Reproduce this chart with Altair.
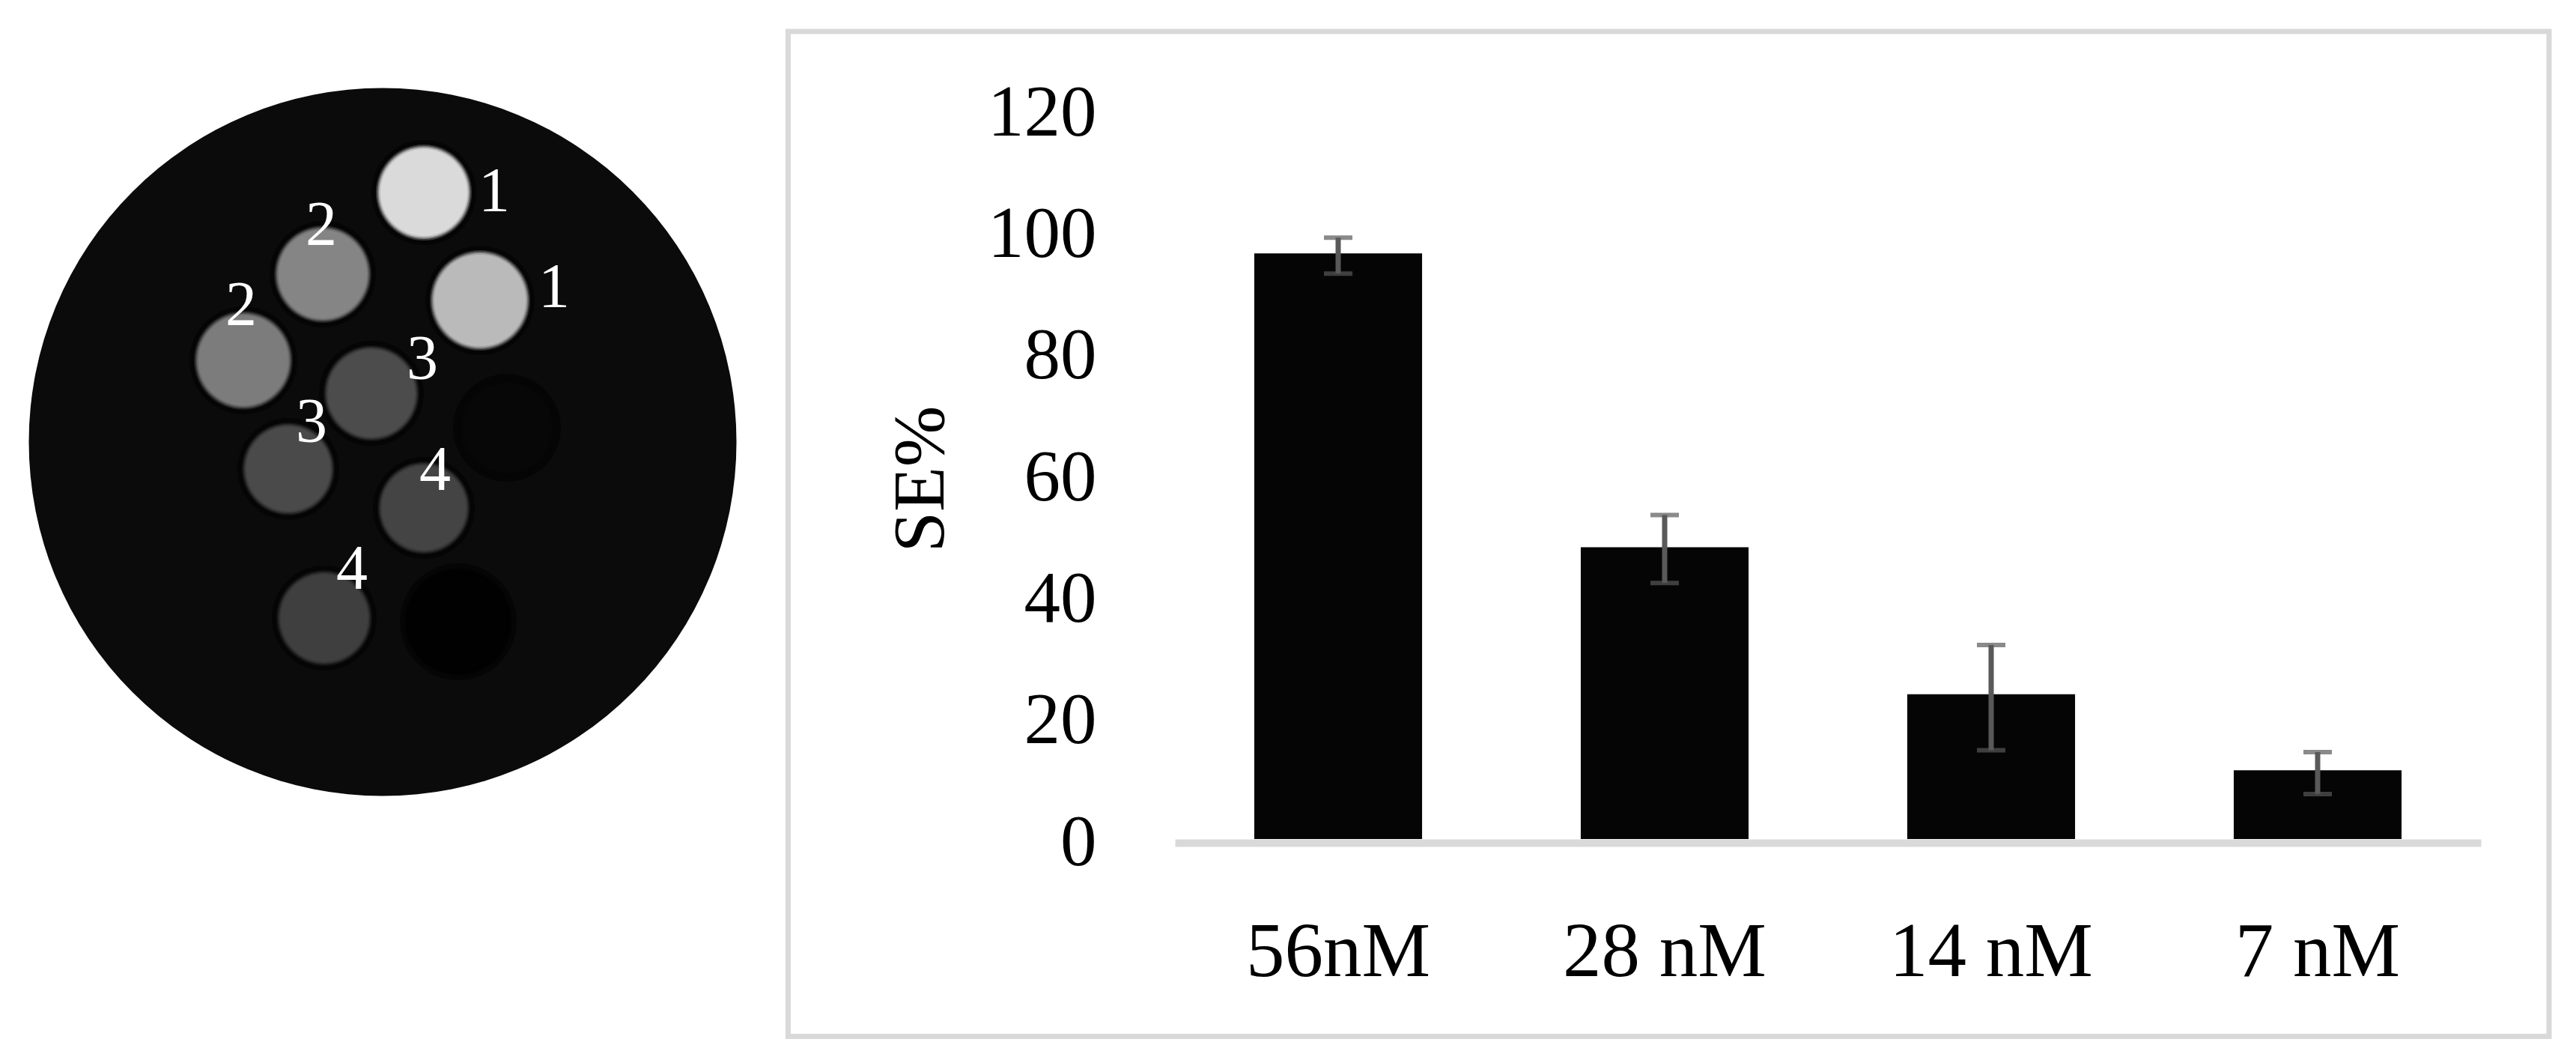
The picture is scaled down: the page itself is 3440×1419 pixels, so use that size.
import altair as alt
import pandas as pd

# ---- bar chart values
concentrations = ["56nM", "28 nM", "14 nM", "7 nM"]
se_percent = [96.3, 48.0, 23.8, 11.3]
err_low = [93.0, 42.1, 14.6, 7.4]
err_high = [98.9, 53.3, 31.9, 14.3]
y_ticks = [0, 20, 40, 60, 80, 100, 120]

# ---- phantom image, read in image pixels
phantom_x = [511]
phantom_y = [590]
phantom_d = [945]
phantom_grey = [11]

disc_x = [566, 641, 431, 325, 496, 385, 566, 433, 677, 612]
disc_y = [257, 401, 366, 481, 525, 626, 678, 825, 571, 830]
disc_d = [122, 128, 124, 126, 122, 118, 118, 122, 126, 138]
disc_grey = [218, 186, 133, 124, 76, 74, 68, 63, 7, 1]

label_text = ["1", "1", "2", "2", "3", "3", "4", "4"]
label_x = [660, 740, 429, 322, 564, 416, 581, 470]
label_y = [257, 385, 302, 409, 481, 565, 629, 761]

W, H = 3410, 1395
FONT = "Liberation Serif"
OFF = 8  # page margin

bars = pd.DataFrame({"c": concentrations, "v": se_percent, "lo": err_low, "hi": err_high})
phantom = pd.DataFrame({"x": phantom_x, "y": phantom_y, "d": phantom_d, "g": phantom_grey})
discs = pd.DataFrame({"x": disc_x, "y": disc_y, "d": disc_d, "g": disc_grey})
labels = pd.DataFrame({"t": label_text, "x": label_x, "y": label_y})

# ---- image scales: one data unit is one screen pixel
ix = alt.Scale(domain=[0, W], range=[-OFF, W - OFF])
iy = alt.Scale(domain=[0, H], range=[-OFF, H - OFF])
dsize = alt.Scale(type="pow", exponent=2, domain=[0, 1000], range=[0, 1000000])
grey = alt.Scale(domain=[0, 255], range=["#000000", "#ffffff"], interpolate="rgb")


def disc_layer(df, grow, opacity):
    return (
        alt.Chart(df.assign(d=df["d"] + grow))
        .mark_point(filled=True, opacity=opacity, shape="circle", strokeWidth=0)
        .encode(
            x=alt.X("x:Q", scale=ix, axis=None),
            y=alt.Y("y:Q", scale=iy, axis=None),
            size=alt.Size("d:Q", scale=dsize, legend=None),
            color=alt.Color("g:Q", scale=grey, legend=None),
        )
    )


image = alt.layer(
    disc_layer(phantom, 0, 1),
    disc_layer(discs.assign(g=[2] * len(discs)), 18, 0.55),
    disc_layer(discs, 6, 0.25),
    disc_layer(discs, 2, 0.45),
    disc_layer(discs, -2, 0.7),
    disc_layer(discs, -6, 1),
    alt.Chart(labels)
    .mark_text(font=FONT, fontSize=84, color="white", baseline="middle")
    .encode(x=alt.X("x:Q", scale=ix, axis=None), y=alt.Y("y:Q", scale=iy, axis=None), text="t:N"),
)

# ---- bar chart
xs = alt.Scale(
    domain=concentrations,
    range=[1569 - OFF, 3313 - OFF],
    paddingInner=0.486,
    paddingOuter=0.243,
)
ys = alt.Scale(domain=[0, 120], range=[1120 - OFF, 146 - OFF])

x_enc = alt.X(
    "c:N",
    scale=xs,
    sort=concentrations,
    title=None,
    axis=alt.Axis(
        orient="bottom",
        offset=-(H - 1117),
        zindex=1,
        labelAngle=0,
        labelFont=FONT,
        labelFontSize=103,
        labelLimit=1000,
        labelColor="#000000",
        labelBaseline="alphabetic",
        labelPadding=177,
        ticks=False,
        domainColor="#d9d9d9",
        domainWidth=10,
        grid=False,
    ),
)
y_enc = alt.Y(
    "v:Q",
    scale=ys,
    title="SE%",
    axis=alt.Axis(
        orient="left",
        offset=-(1464 - OFF),
        zindex=1,
        values=y_ticks,
        labelFont=FONT,
        labelFontSize=97,
        labelColor="#000000",
        labelPadding=0,
        labelOffset=5,
        ticks=False,
        domain=False,
        grid=False,
        titleFont=FONT,
        titleFontSize=98,
        titleFontWeight="normal",
        titleColor="#000000",
        titleAngle=270,
        titleBaseline="alphabetic",
        titleX=-205,
        titleY=631,
    ),
)

base = alt.Chart(bars)
bar_layer = base.mark_bar(color="#050505").encode(x=x_enc, y=y_enc)
err_rule = base.mark_rule(color="#595959", strokeWidth=7).encode(
    x=alt.X("c:N", scale=xs, sort=concentrations),
    y=alt.Y("lo:Q", scale=ys),
    y2="hi:Q",
)
cap_lo = base.mark_tick(color="#595959", size=38, thickness=6).encode(
    x=alt.X("c:N", scale=xs, sort=concentrations), y=alt.Y("lo:Q", scale=ys)
)
cap_hi = base.mark_tick(color="#595959", size=38, thickness=6).encode(
    x=alt.X("c:N", scale=xs, sort=concentrations), y=alt.Y("hi:Q", scale=ys)
)
bar_chart = alt.layer(bar_layer, err_rule, cap_lo, cap_hi)

frame = (
    alt.Chart(pd.DataFrame({"a": [0]}))
    .mark_rect(filled=False, stroke="#d9d9d9", strokeWidth=7)
    .encode(
        x=alt.value(1052.5 - OFF),
        x2=alt.value(3404 - OFF),
        y=alt.value(42 - OFF),
        y2=alt.value(1383.5 - OFF),
    )
)

chart = (
    alt.layer(frame, image, bar_chart)
    .resolve_scale(x="independent", y="independent", size="independent", color="independent")
    .resolve_axis(x="independent", y="independent")
    .properties(
        width=W,
        height=H,
        padding=0,
        autosize=alt.AutoSizeParams(type="none"),
        background="white",
    )
    .configure_view(stroke=None)
)

chart.save("out.html", embed_options={"renderer": "svg", "actions": False})
